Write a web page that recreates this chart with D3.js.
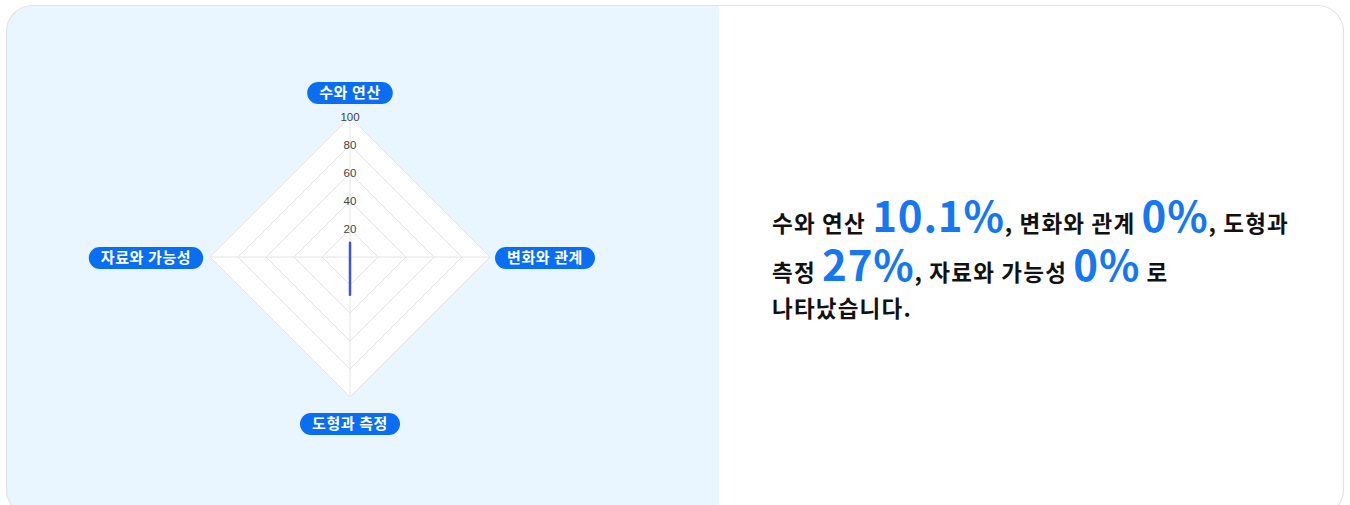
<!DOCTYPE html>
<html><head><meta charset="utf-8">
<script src="https://cdn.jsdelivr.net/npm/d3@7"></script>
<style>
html,body{margin:0;padding:0;background:#fff;}
svg{display:block;font-family:"Noto Sans CJK KR","Noto Sans",sans-serif;}
</style></head>
<body><svg id="c" width="1350" height="505"></svg>
<script>
const categories = ["수와 연산", "변화와 관계", "도형과 측정", "자료와 가능성"];
const values = [10.1, 0, 27, 0];
const tickValues = [20, 40, 60, 80, 100];
const summary = [
  [["수와 연산 ", false], ["10.1%", true], [", 변화와 관계 ", false], ["0%", true], [", 도형과", false]],
  [["측정 ", false], ["27%", true], [", 자료와 가능성 ", false], ["0%", true], [" 로", false]],
  [["나타났습니다.", false]]
];

const svg = d3.select("#c");
const defs = svg.append("defs");
defs.append("clipPath").attr("id","card").append("rect")
  .attr("x",6.5).attr("y",5.5).attr("width",1337).attr("height",510).attr("rx",26);
const g0 = svg.append("g").attr("clip-path","url(#card)");
g0.append("rect").attr("x",6).attr("y",5).attr("width",1340).attr("height",510).attr("fill","#fff");
g0.append("rect").attr("x",6).attr("y",5).attr("width",713).attr("height",510).attr("fill","#e9f6ff");
svg.append("rect").attr("x",6.5).attr("y",5.5).attr("width",1337).attr("height",510).attr("rx",26)
  .attr("fill","none").attr("stroke","#e3e3e3").attr("stroke-width",1.2);

const cx = 350, cy = 257, R = 140;
const r = d3.scaleLinear().domain([0,100]).range([0,R]);
const ang = i => -Math.PI/2 + i*2*Math.PI/categories.length;
const pt = (i,v) => [cx + r(v)*Math.cos(ang(i)), cy + r(v)*Math.sin(ang(i))];
const line = d3.line().curve(d3.curveLinearClosed);

const radar = svg.append("g");
radar.append("path").attr("d", line(categories.map((c,i)=>pt(i,100)))).attr("fill","#fff");
tickValues.forEach(t=>{
  radar.append("path").attr("d", line(categories.map((c,i)=>pt(i,t))))
    .attr("fill","none").attr("stroke","#e4e4e4").attr("stroke-width",1);
});
categories.forEach((c,i)=>{
  const p = pt(i,100);
  radar.append("line").attr("x1",cx).attr("y1",cy).attr("x2",p[0]).attr("y2",p[1])
    .attr("stroke","#e4e4e4").attr("stroke-width",1);
});
radar.append("path").attr("d", line(values.map((v,i)=>pt(i,v))))
  .attr("fill","rgba(61,90,217,0.15)").attr("stroke","#3d55d6").attr("stroke-width",2.5).attr("stroke-linejoin","round");

tickValues.forEach(t=>{
  radar.append("text").attr("x",cx).attr("y",cy - r(t)+4).attr("text-anchor","middle")
    .attr("font-size",11.5).attr("fill","#444").attr("font-family","Liberation Sans, Arial, sans-serif").text(t);
});

const labelPos = [[cx, 93],[545, 258],[cx, 424],[146, 258]];
categories.forEach((c,i)=>{
  const g = radar.append("g").attr("transform",`translate(${labelPos[i][0]},${labelPos[i][1]})`);
  const t = g.append("text").attr("text-anchor","middle").attr("dy","0.35em")
    .attr("font-size",15).attr("font-weight",700).attr("letter-spacing",0.6).attr("fill","#fff").text(c);
  const w = t.node().getComputedTextLength();
  g.insert("rect","text").attr("x",-w/2-12).attr("y",-11).attr("width",w+24).attr("height",22)
    .attr("rx",11).attr("fill","#0a6ef2");
});

const baselines = [232, 281, 317];
summary.forEach((row,k)=>{
  const t = svg.append("text").attr("x",772).attr("y",baselines[k]);
  row.forEach(([s,big])=>{
    t.append("tspan").text(s)
      .attr("font-size", big?42:22.5).attr("font-weight", big?700:700)
      .attr("letter-spacing", big?0.8:1.2)
      .attr("fill", big?"#1577f2":"#111")
      .attr("xml:space","preserve").style("white-space","pre");
  });
});
</script></body></html>
